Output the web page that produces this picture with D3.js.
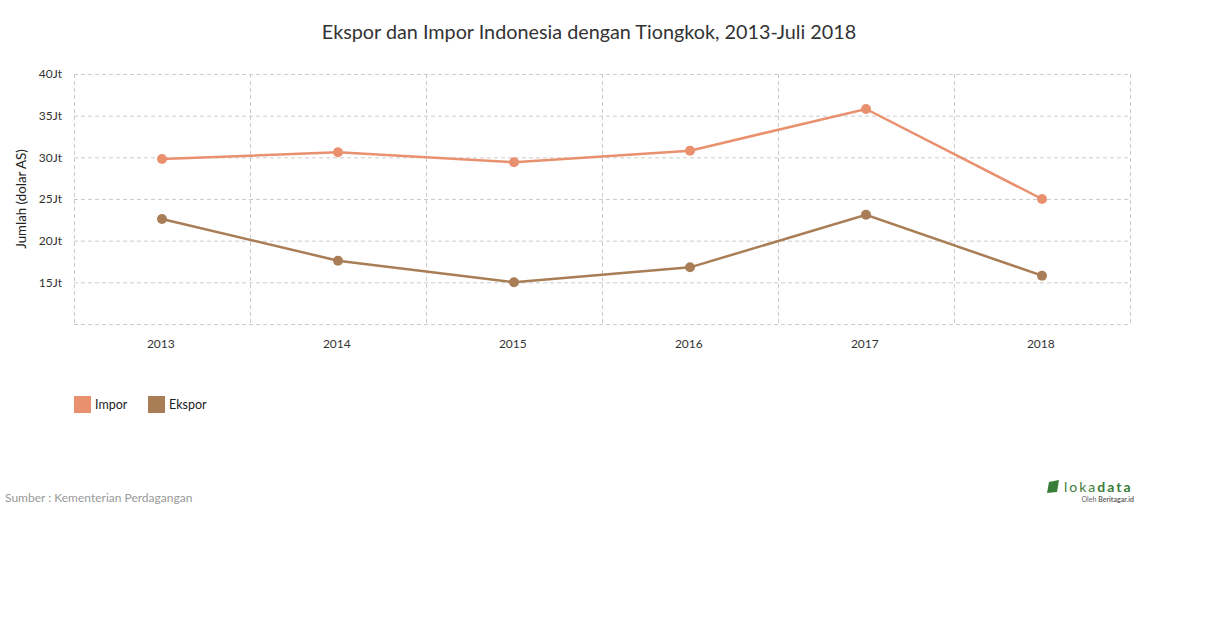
<!DOCTYPE html>
<html>
<head>
<meta charset="utf-8">
<script src="https://cdn.jsdelivr.net/npm/d3@7"></script>
<style>
  body { margin: 0; background: #fff; font-family: Lato, "Open Sans", sans-serif; }
  .grid line { stroke: #ccc; stroke-dasharray: 4,3; }
  .grid path { display: none; }
  .tick text { font-family: Lato, sans-serif; }
</style>
</head>
<body>
<div id="chart"></div>
<script>
const years = ["2013", "2014", "2015", "2016", "2017", "2018"];
const impor = [29.8, 30.6, 29.4, 30.8, 35.8, 25.0];
const ekspor = [22.6, 17.6, 15.0, 16.8, 23.1, 15.8];
const yTicks = [15, 20, 25, 30, 35, 40];
const seriesNames = ["Impor", "Ekspor"];
const seriesColors = ["#e9916f", "#a97d56"];

const margin = { top: 74, right: 80, bottom: 304, left: 74 };
const width = 1210 - margin.left - margin.right;
const height = 628 - margin.top - margin.bottom;

const root = d3.select("#chart")
    .append("svg")
    .attr("width", 1210)
    .attr("height", 628);

root.append("text")
    .attr("x", 589)
    .attr("y", 39)
    .attr("text-anchor", "middle")
    .attr("font-size", 19.8)
    .attr("fill", "#333")
    .text("Ekspor dan Impor Indonesia dengan Tiongkok, 2013-Juli 2018");

const svg = root.append("g")
    .attr("transform", `translate(${margin.left},${margin.top})`);

const x = d3.scaleBand()
    .domain(years)
    .range([0, width]);

const y = d3.scaleLinear()
    .domain([10, 40])
    .range([height, 0]);

// horizontal grid
svg.append("g")
    .attr("class", "grid")
    .call(d3.axisLeft(y).tickValues([10].concat(yTicks)).tickSize(-width).tickFormat(""));

// vertical grid at band edges
svg.append("g")
    .attr("class", "grid")
    .selectAll("line")
    .data(years.map(d => x(d)).concat([width]))
    .enter()
    .append("line")
    .attr("x1", d => d + 0.5)
    .attr("x2", d => d + 0.5)
    .attr("y1", 0)
    .attr("y2", height);

const yAxis = svg.append("g")
    .call(d3.axisLeft(y).tickValues(yTicks).tickSize(0).tickPadding(12).tickFormat(d => d + "Jt"));
yAxis.select(".domain").remove();
yAxis.selectAll("text").attr("font-size", 12).attr("fill", "#333");

const xAxis = svg.append("g")
    .attr("transform", `translate(0,${height})`)
    .call(d3.axisBottom(x).tickSize(0).tickPadding(15));
xAxis.select(".domain").remove();
xAxis.selectAll("text").attr("font-size", 12).attr("fill", "#333").attr("dx", "-0.1em");

svg.append("text")
    .attr("transform", "rotate(-90)")
    .attr("x", -height / 2)
    .attr("y", -48)
    .attr("text-anchor", "middle")
    .attr("font-size", 13.3)
    .attr("fill", "#222")
    .text("Jumlah (dolar AS)");

const line = d3.line()
    .x((d, i) => x(years[i]) + x.bandwidth() / 2)
    .y(d => y(d));

[impor, ekspor].forEach((vals, k) => {
    svg.append("path")
        .datum(vals)
        .attr("fill", "none")
        .attr("stroke", seriesColors[k])
        .attr("stroke-width", 2.5)
        .attr("d", line);

    svg.selectAll("circle.s" + k)
        .data(vals)
        .enter()
        .append("circle")
        .attr("class", "s" + k)
        .attr("cx", (d, i) => x(years[i]) + x.bandwidth() / 2)
        .attr("cy", d => y(d))
        .attr("r", 5)
        .attr("fill", seriesColors[k]);
});

// legend
const legend = root.append("g").attr("transform", "translate(74,396)");
const legendX = [0, 74];
seriesNames.forEach((name, k) => {
    const g = legend.append("g").attr("transform", `translate(${legendX[k]},0)`);
    g.append("rect").attr("width", 17).attr("height", 17).attr("fill", seriesColors[k]);
    g.append("text")
        .attr("x", 21)
        .attr("y", 13)
        .attr("font-size", 12.5)
        .attr("fill", "#222")
        .text(name);
});

root.append("text")
    .attr("x", 5)
    .attr("y", 502)
    .attr("font-size", 12)
    .attr("fill", "#999")
    .text("Sumber : Kementerian Perdagangan");

// logo
const logo = root.append("g").attr("transform", "translate(1047,480)");
logo.append("path")
    .attr("d", "M2,2 L12,0 L10,12 L0,13 Z")
    .attr("fill", "#3a7d3a");
logo.append("text")
    .attr("x", 17)
    .attr("y", 12)
    .attr("font-size", 14)
    .attr("letter-spacing", 2)
    .attr("fill", "#3a7d3a")
    .html('loka<tspan font-weight="bold">data</tspan>');
logo.append("text")
    .attr("x", 87)
    .attr("y", 22)
    .attr("text-anchor", "end")
    .attr("font-size", 7)
    .attr("fill", "#666")
    .html('Oleh <tspan font-weight="bold">Beritagar.id</tspan>');
</script>
</body>
</html>
